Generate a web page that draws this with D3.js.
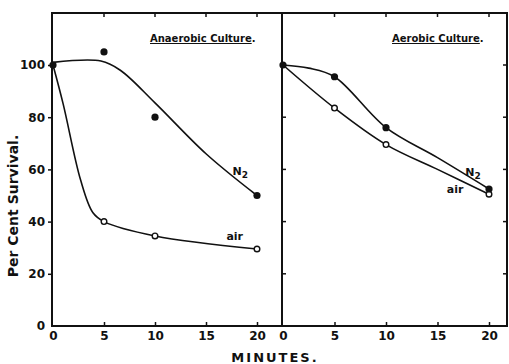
<!DOCTYPE html>
<html>
<head>
<meta charset="utf-8">
<script src="https://cdn.jsdelivr.net/npm/d3@7"></script>
<style>
  body { margin: 0; background: #fff; }
  text { font-family: "DejaVu Sans", sans-serif; fill: #111; }
</style>
</head>
<body>
<svg id="chart" width="509" height="364"></svg>
<script>
const minuteTicks = [0, 5, 10, 15, 20];
const percentTicks = [0, 20, 40, 60, 80, 100];

// measured points (minutes, per cent survival)
const anaerobicN2 = [[0, 100], [5, 105], [10, 80], [20, 50]];
const anaerobicAir = [[0, 100], [5, 40], [10, 34.5], [20, 29.5]];
const aerobicN2 = [[0, 100], [5, 95.5], [10, 76], [20, 52.5]];
const aerobicAir = [[0, 100], [5, 83.5], [10, 69.5], [20, 50.5]];

// hand-drawn curves
const anaerobicN2Curve = [[0, 101], [4.7, 101.5], [6.6, 98], [10, 85.5], [15, 66], [20, 50]];
const anaerobicAirCurve = [[0, 100], [1, 85], [2.7, 56], [3.9, 43.5], [5, 40], [10, 34.5], [20, 29.5]];
const aerobicN2Curve = [[0, 100], [2.5, 98.8], [5, 95.5], [10, 76], [15, 64.5], [20, 52.5]];
const aerobicAirCurve = [[0, 100], [5, 83.5], [10, 69.5], [15, 60], [20, 50.5]];

const svg = d3.select("#chart");

const y = d3.scaleLinear().domain([0, 100]).range([326, 65]);
const plotTop = 13;

const xLeft = d3.scaleLinear().domain([0, 20]).range([53, 257]);
const xRight = d3.scaleLinear().domain([0, 20]).range([283, 489]);
const leftEdge = 52, midEdge = 282, rightEdge = 507;

// frame
svg.append("rect")
  .attr("x", leftEdge).attr("y", plotTop)
  .attr("width", rightEdge - leftEdge).attr("height", y(0) - plotTop)
  .attr("fill", "none").attr("stroke", "#111").attr("stroke-width", 2);
svg.append("line")
  .attr("x1", midEdge).attr("x2", midEdge).attr("y1", plotTop).attr("y2", y(0))
  .attr("stroke", "#111").attr("stroke-width", 2);

// left y axis, outward ticks
const yAxis = d3.axisLeft(y).tickValues(percentTicks).tickSize(4).tickPadding(3);
const ya = svg.append("g").attr("transform", `translate(${leftEdge},0)`).call(yAxis);
ya.select(".domain").remove();
ya.selectAll("line").attr("stroke", "#111").attr("stroke-width", 1.5);
ya.selectAll("text").style("font-size", "12px").style("font-weight", "bold");
ya.selectAll(".tick").filter(d => d === 0).select("line").remove();

// inner y ticks at divider and right edge
[[midEdge, 4], [rightEdge, -4]].forEach(([px, len]) => {
  svg.append("g").selectAll("line").data(percentTicks.filter(d => d > 0 && d < 100 || (px === rightEdge && d === 100)))
    .join("line")
    .attr("x1", px).attr("x2", px + len)
    .attr("y1", d => y(d)).attr("y2", d => y(d))
    .attr("stroke", "#111").attr("stroke-width", 1.5);
});

// x axes for both panels
[xLeft, xRight].forEach(x => {
  const xa = svg.append("g").attr("transform", `translate(0,${y(0)})`)
    .call(d3.axisBottom(x).tickValues(minuteTicks).tickSize(-4).tickPadding(5));
  xa.select(".domain").remove();
  xa.selectAll("line").attr("stroke", "#111").attr("stroke-width", 1.5);
  xa.selectAll(".tick").filter(d => d === 0).select("line").remove();
  xa.selectAll("text").style("font-size", "12px").style("font-weight", "bold");

  // top ticks pointing in
  svg.append("g").selectAll("line").data(minuteTicks.filter(d => d > 0))
    .join("line")
    .attr("x1", d => x(d)).attr("x2", d => x(d))
    .attr("y1", plotTop).attr("y2", plotTop + 4)
    .attr("stroke", "#111").attr("stroke-width", 1.5);
});

// curves
const drawPanel = (x, n2Curve, airCurve, n2Pts, airPts) => {
  const line = d3.line().x(d => x(d[0])).y(d => y(d[1])).curve(d3.curveCatmullRom.alpha(0.5));
  [n2Curve, airCurve].forEach(c => {
    svg.append("path").attr("d", line(c))
      .attr("fill", "none").attr("stroke", "#111").attr("stroke-width", 1.6);
  });
  svg.append("g").selectAll("circle").data(airPts.slice(1))
    .join("circle")
    .attr("cx", d => x(d[0])).attr("cy", d => y(d[1])).attr("r", 2.8)
    .attr("fill", "#fff").attr("stroke", "#111").attr("stroke-width", 1.4);
  svg.append("g").selectAll("circle").data(n2Pts)
    .join("circle")
    .attr("cx", d => x(d[0])).attr("cy", d => y(d[1])).attr("r", 3.6)
    .attr("fill", "#111");
};
drawPanel(xLeft, anaerobicN2Curve, anaerobicAirCurve, anaerobicN2, anaerobicAir);
drawPanel(xRight, aerobicN2Curve, aerobicAirCurve, aerobicN2, aerobicAir);

// series labels
const n2Label = (px, py) => {
  const t = svg.append("text").attr("x", px).attr("y", py)
    .style("font-size", "11px").style("font-weight", "bold");
  t.append("tspan").text("N");
  t.append("tspan").attr("dy", 3).style("font-size", "9px").text("2");
};
n2Label(xLeft(17.6), y(58));
n2Label(xRight(17.7), y(57.5));
svg.append("text").attr("x", xLeft(17.0)).attr("y", y(33))
  .style("font-size", "11px").style("font-weight", "bold").text("air");
svg.append("text").attr("x", xRight(15.9)).attr("y", y(51))
  .style("font-size", "11px").style("font-weight", "bold").text("air");

// panel titles
const title = (px, label) => {
  const t = svg.append("text").attr("x", px).attr("y", 42)
    .style("font-size", "10px").style("font-weight", "bold");
  t.append("tspan").style("text-decoration", "underline").text(label);
  t.append("tspan").text(".");
};
title(150, "Anaerobic Culture");
title(392, "Aerobic Culture");

// axis titles
svg.append("text")
  .attr("transform", `translate(18,206) rotate(-90)`)
  .attr("text-anchor", "middle")
  .style("font-size", "14px").style("font-weight", "bold")
  .text("Per Cent Survival.");
svg.append("text")
  .attr("x", 275).attr("y", 362)
  .attr("text-anchor", "middle")
  .style("font-size", "13px").style("font-weight", "bold").style("letter-spacing", "2px")
  .text("MINUTES.");
</script>
</body>
</html>
